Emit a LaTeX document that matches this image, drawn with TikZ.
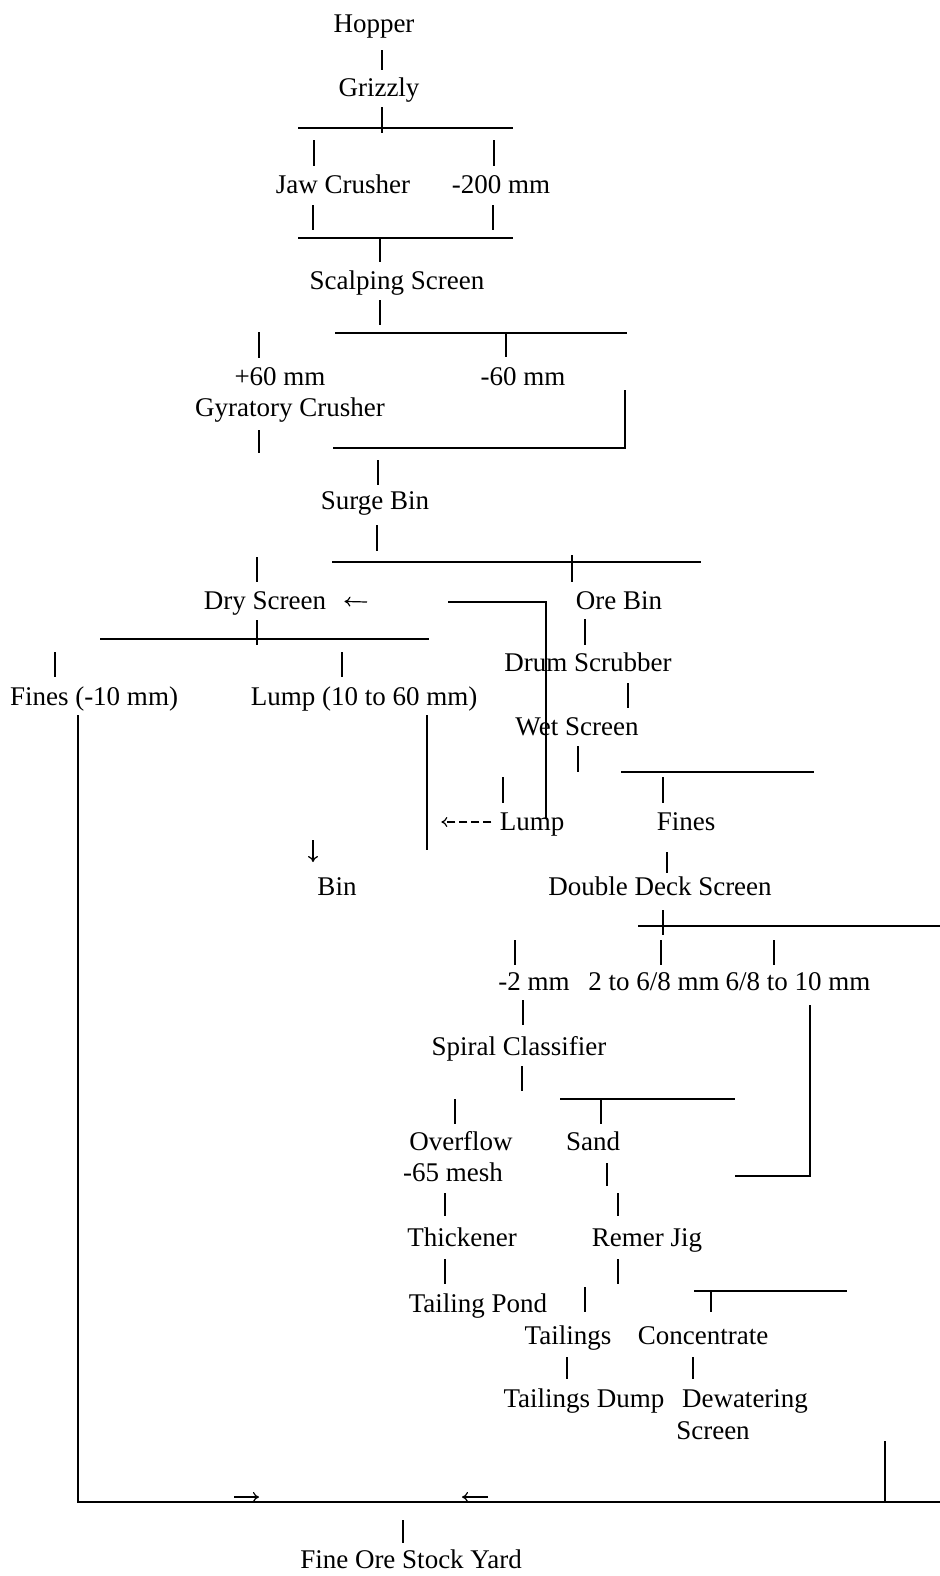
\documentclass[tikz,border=0pt]{standalone}
\usepackage{fontspec}
\setmainfont{Liberation Serif}
\usetikzlibrary{arrows.meta}

\begin{document}
\begin{tikzpicture}[x=0.5pt,y=-0.5pt,
    lbl/.style={inner sep=0pt, text height=11.5pt, text depth=3pt, font=\fontsize{13.5}{16}\selectfont},
    bus/.style={line width=1pt},
    tick/.style={line width=0.9pt},
    arr/.style={line width=0.6pt, -{To[length=3pt,width=5pt]}}]
    \useasboundingbox (0,0) rectangle (940,1576);

    % crushing section
    \node[lbl] (hopper)  at (374,24)  {Hopper};
    \node[lbl] (grizzly) at (379,88)  {Grizzly};
    \node[lbl] (jaw)     at (343,185) {Jaw Crusher};
    \node[lbl] (m200)    at (501,185) {-200 mm};
    \node[lbl] (scalp)   at (397,281) {Scalping Screen};
    \node[lbl] (p60)     at (280,377) {+60 mm};
    \node[lbl] (m60)     at (523,377) {-60 mm};
    \node[lbl] (gyr)     at (290,408) {Gyratory Crusher};
    \node[lbl] (surge)   at (375,501) {Surge Bin};

    % screening and scrubbing
    \node[lbl] (dry)     at (265,601) {Dry Screen};
    \node[lbl] (orebin)  at (619,601) {Ore Bin};
    \node[lbl] (fines)   at (94,697)  {Fines (-10 mm)};
    \node[lbl] (lump)    at (364,697) {Lump (10 to 60 mm)};
    \node[lbl] (drum)    at (588,663) {Drum Scrubber};
    \node[lbl] (wet)     at (577,727) {Wet Screen};
    \node[lbl] (wlump)   at (532,822) {Lump};
    \node[lbl] (wfines)  at (686,822) {Fines};
    \node[lbl] (bin)     at (337,887) {Bin};
    \node[lbl] (dds)     at (660,887) {Double Deck Screen};
    \node[lbl] (m2)      at (534,982) {-2 mm};
    \node[lbl] (m268)    at (654,982) {2 to 6/8 mm};
    \node[lbl] (m6810)   at (798,982) {6/8 to 10 mm};

    % classifying and jigging
    \node[lbl] (spiral)  at (519,1047) {Spiral Classifier};
    \node[lbl] (over)    at (461,1142) {Overflow};
    \node[lbl] (mesh)    at (453,1173) {-65 mesh};
    \node[lbl] (sand)    at (593,1142) {Sand};
    \node[lbl] (thick)   at (462,1238) {Thickener};
    \node[lbl] (remer)   at (647,1238) {Remer Jig};
    \node[lbl] (pond)    at (478,1304) {Tailing Pond};
    \node[lbl] (tail)    at (568,1336) {Tailings};
    \node[lbl] (conc)    at (703,1336) {Concentrate};
    \node[lbl] (dump)    at (584,1399) {Tailings Dump};
    \node[lbl] (dewat)   at (745,1399) {Dewatering};
    \node[lbl] (dscreen) at (713,1431) {Screen};
    \node[lbl] (yard)    at (411,1560) {Fine Ore Stock Yard};

    % bus bars
    \coordinate (b1w) at (298,128);  \coordinate (b1e) at (513,128);
    \coordinate (b2w) at (298,238);  \coordinate (b2e) at (513,238);
    \coordinate (b3w) at (335,333);  \coordinate (b3e) at (627,333);
    \coordinate (b4w) at (333,448);
    \coordinate (b5w) at (332,562);  \coordinate (b5e) at (701,562);
    \coordinate (b6w) at (100,639);  \coordinate (b6e) at (429,639);
    \coordinate (b7w) at (621,772);  \coordinate (b7e) at (814,772);
    \coordinate (b8w) at (638,926);  \coordinate (b8e) at (940,926);
    \coordinate (b9w) at (560,1099); \coordinate (b9e) at (735,1099);
    \coordinate (b10w) at (694,1291); \coordinate (b10e) at (847,1291);
    \coordinate (botw) at (78,1502); \coordinate (bote) at (940,1502);
    \coordinate (dryret) at (448,602);
    \coordinate (sandret) at (735,1176);
    \coordinate (dewret) at (885,1441);
    \draw[bus] (b1w) -- (b1e);
    \draw[bus] (b2w) -- (b2e);
    \draw[bus] (b3w) -- (b3e);
    \draw[bus] (b5w) -- (b5e);
    \draw[bus] (b6w) -- (b6e);
    \draw[bus] (b7w) -- (b7e);
    \draw[bus] (b8w) -- (b8e);
    \draw[bus] (b9w) -- (b9e);
    \draw[bus] (b10w) -- (b10e);

    % ticks between labels and bars
    \draw[tick] (hopper.center) ++(8,26) -- ++(0,20);
    \draw[tick] (grizzly.center) ++(3,19) -- ++(0,26);
    \draw[tick] (jaw.center) ++(-29,-45) -- ++(0,26);
    \draw[tick] (jaw.center) ++(-30,20) -- ++(0,25);
    \draw[tick] (m200.center) ++(-7,-45) -- ++(0,26);
    \draw[tick] (m200.center) ++(-8,20) -- ++(0,25);
    \draw[tick] (scalp.center) ++(-17,-43) -- ++(0,24);
    \draw[tick] (scalp.center) ++(-17,19) -- ++(0,25);
    \draw[tick] (m60.center) ++(-17,-44) -- ++(0,24);
    \draw[tick] (p60.center) ++(-21,-45) -- ++(0,26);
    \draw[tick] (gyr.center) ++(-31,22) -- ++(0,23);
    \draw[tick] (surge.center) ++(3,-41) -- ++(0,25);
    \draw[tick] (surge.center) ++(2,24) -- ++(0,26);
    \draw[tick] (orebin.center) ++(-47,-46) -- ++(0,27);
    \draw[tick] (orebin.center) ++(-34,18) -- ++(0,26);
    \draw[tick] (dry.center) ++(-8,-44) -- ++(0,25);
    \draw[tick] (dry.center) ++(-8,19) -- ++(0,25);
    \draw[tick] (lump.center) ++(-22,-45) -- ++(0,25);
    \draw[tick] (fines.center) ++(-39,-45) -- ++(0,25);
    \draw[tick] (drum.center) ++(40,20) -- ++(0,25);
    \draw[tick] (wet.center) ++(1,19) -- ++(0,26);
    \draw[tick] (wfines.center) ++(-23,-45) -- ++(0,26);
    \draw[tick] (wfines.center) ++(-19,30) -- ++(0,21);
    \draw[tick] (wlump.center) ++(-29,-45) -- ++(0,26);
    \draw[tick] (dds.center) ++(3,23) -- ++(0,25);
    \draw[tick] (m2.center) ++(-19,-42) -- ++(0,25);
    \draw[tick] (m2.center) ++(-11,18) -- ++(0,25);
    \draw[tick] (m268.center) ++(7,-42) -- ++(0,25);
    \draw[tick] (m6810.center) ++(-24,-42) -- ++(0,25);
    \draw[tick] (spiral.center) ++(3,19) -- ++(0,25);
    \draw[tick] (over.center) ++(-6,-43) -- ++(0,25);
    \draw[tick] (sand.center) ++(8,-43) -- ++(0,25);
    \draw[tick] (sand.center) ++(14,21) -- ++(0,23);
    \draw[tick] (thick.center) ++(-17,-45) -- ++(0,23);
    \draw[tick] (thick.center) ++(-17,21) -- ++(0,25);
    \draw[tick] (remer.center) ++(-29,-45) -- ++(0,23);
    \draw[tick] (remer.center) ++(-29,21) -- ++(0,25);
    \draw[tick] (tail.center) ++(17,-49) -- ++(0,25);
    \draw[tick] (tail.center) ++(-1,21) -- ++(0,22);
    \draw[tick] (conc.center) ++(8,-45) -- ++(0,21);
    \draw[tick] (conc.center) ++(-10,21) -- ++(0,22);
    \draw[tick] (yard.center) ++(-8,-40) -- ++(0,23);

    % return lines
    \draw[bus] (m60.center) ++(102,13) |- (b4w);
    \draw[bus] (wlump.center) ++(14,-4) |- (dryret);
    \draw[arr, shorten >=9pt] (dryret) ++(-81,0) -- (dry.east);
    \draw[arr, dash pattern=on 4pt off 2pt] (wlump.west) ++(-8,0) -- ++(-50,0);
    \draw[tick] (lump.center) ++(63,18) -- ++(0,135);
    \draw[arr] (bin.center) ++(-24,-47) -- ++(0,22);
    \draw[bus] (m6810.center) ++(12,23) |- (sandret);

    % fines to stock yard
    \draw[bus] (fines.center) ++(-16,18) |- (bote);
    \draw[tick] (dewret) -- (dewret |- bote);
    \draw[arr] (botw) ++(156,-5) -- ++(25,0);
    \draw[arr] (botw) ++(410,-5) -- ++(-26,0);
\end{tikzpicture}
\end{document}
